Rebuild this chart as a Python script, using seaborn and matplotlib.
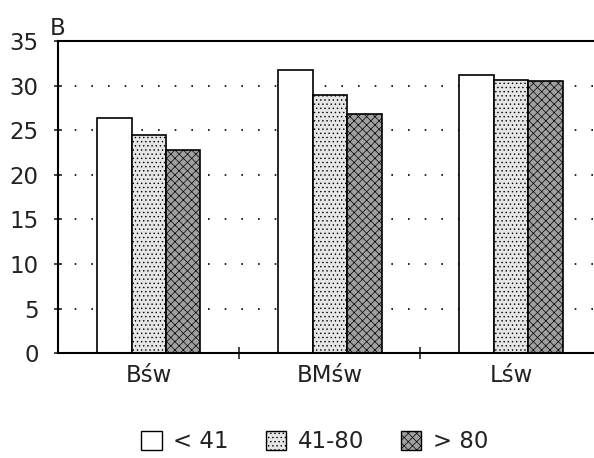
import matplotlib
matplotlib.use("Agg")
import matplotlib.pyplot as plt
import seaborn as sns
import pandas as pd
from matplotlib.patches import Patch

categories = ["Bśw", "BMśw", "Lśw"]
series = ["< 41", "41-80", "> 80"]
v_lt41 = [26.4, 31.8, 31.2]
v_41_80 = [24.5, 29.0, 30.6]
v_gt80 = [22.8, 26.8, 30.5]
yticks = [0, 5, 10, 15, 20, 25, 30, 35]

rows = []
for s, vals in zip(series, [v_lt41, v_41_80, v_gt80]):
    for c, v in zip(categories, vals):
        rows.append({"cat": c, "grp": s, "val": v})
df = pd.DataFrame(rows)

sns.set_theme(style="white")
plt.rcParams["font.family"] = ["DejaVu Sans"]
plt.rcParams["hatch.color"] = "#808080"
plt.rcParams["hatch.linewidth"] = 0.5

FS = 16.5
TC = "#222222"

fig = plt.figure(figsize=(5.94, 4.58), dpi=100)
ax = fig.add_axes([0.098, 0.229, 0.93, 0.681])

colors = ["#ffffff", "#e6e6e6", "#a0a0a0"]
hatches = ["", "....", "xxxx"]
sns.barplot(data=df, x="cat", y="val", hue="grp", hue_order=series,
            palette=colors, width=0.57, edgecolor="black", linewidth=1.2,
            ax=ax, legend=False, saturation=1)

for i, container in enumerate(ax.containers):
    for p in container:
        p.set_hatch(hatches[i])

ax.set_xlim(-0.5, 2.55)
ax.set_ylim(0, 35)
ax.set_yticks(yticks)
ax.set_yticklabels([str(t) for t in yticks], fontsize=FS, color=TC)
ax.set_xticks(range(len(categories)))
ax.set_xticklabels(categories, fontsize=FS, color=TC)
ax.set_xticks([0.5, 1.5], minor=True)
ax.tick_params(axis="x", which="major", length=0, pad=8)
ax.tick_params(axis="x", which="minor", direction="inout", length=8, width=1.2, bottom=True)
ax.tick_params(axis="y", direction="inout", length=6, width=1.2, left=True, pad=11)
ax.set_xlabel("")
ax.set_ylabel("")
for y in yticks[1:-1]:
    ax.axhline(y, color="black", linestyle=(0, (1, 9)), linewidth=1.2, zorder=0)
for s in ["left", "top", "bottom"]:
    ax.spines[s].set_visible(True)
    ax.spines[s].set_color("black")
    ax.spines[s].set_linewidth(1.5)
ax.spines["right"].set_visible(False)

ax.text(-0.015, 1.005, "B", transform=ax.transAxes, fontsize=FS, ha="left", va="bottom", color=TC)

handles = [Patch(facecolor=colors[i], edgecolor="black", hatch=hatches[i], label=series[i])
           for i in range(3)]
leg = fig.legend(handles=handles, loc="center", bbox_to_anchor=(0.53, 0.035), ncol=3,
                 frameon=False, fontsize=FS, handlelength=0.9, handleheight=0.9,
                 columnspacing=1.6, handletextpad=0.5)
for t in leg.get_texts():
    t.set_color(TC)

fig.savefig("out.png", dpi=100)
